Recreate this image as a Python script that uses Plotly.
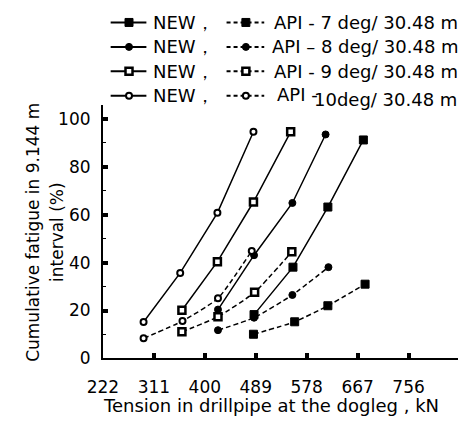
import plotly.graph_objects as go

W, H = 469, 429

# Tension in drillpipe at the dogleg (kN) vs cumulative fatigue (%)
new_7_t = [486, 554, 615, 677]
new_7_f = [18.3, 38.1, 63.2, 91.2]
api_7_t = [485, 557, 615, 680]
api_7_f = [10.1, 15.3, 22.0, 31.0]

new_8_t = [423, 486, 553, 611]
new_8_f = [20.4, 43.1, 64.9, 93.5]
api_8_t = [423, 486, 553, 616]
api_8_f = [11.8, 17.0, 26.5, 38.1]

new_9_t = [360, 422, 485, 550]
new_9_f = [20.1, 40.4, 65.3, 94.6]
api_9_t = [360, 423, 487, 552]
api_9_f = [11.1, 17.4, 27.6, 44.5]

new_10_t = [293, 357, 422, 485]
new_10_f = [15.2, 35.7, 60.8, 94.6]
api_10_t = [293, 361, 423, 482]
api_10_f = [8.4, 15.6, 25.1, 44.9]

x_ticks = [222, 311, 400, 489, 578, 667, 756]
y_ticks = [0, 20, 40, 60, 80, 100]

new_label = "NEW，"
api_labels = ["API - 7 deg/ 30.48 m", "API – 8 deg/ 30.48 m",
              "API - 9 deg/ 30.48 m", "API -", "10deg/ 30.48 m"]

FONT = "DejaVu Sans"


def px(x):
    return x / W


def py(y):
    return 1 - y / H


# marker styles: filled square, filled circle, open square, open circle
styles = {
    7: dict(symbol="square", size=8, color="black", line=dict(color="black", width=1)),
    8: dict(symbol="circle", size=7, color="black", line=dict(color="black", width=1)),
    9: dict(symbol="square", size=7, color="white", line=dict(color="black", width=2.5)),
    10: dict(symbol="circle", size=6, color="white", line=dict(color="black", width=2)),
}

series = [
    (7, new_7_t, new_7_f, api_7_t, api_7_f),
    (8, new_8_t, new_8_f, api_8_t, api_8_f),
    (9, new_9_t, new_9_f, api_9_t, api_9_f),
    (10, new_10_t, new_10_f, api_10_t, api_10_f),
]

fig = go.Figure()

for deg, nt, nf, at, af in series:
    fig.add_trace(go.Scatter(
        x=at, y=af, mode="lines+markers",
        line=dict(color="black", width=1.5, dash="5px,3px", shape="spline", smoothing=0.5),
        marker=styles[deg], showlegend=False, cliponaxis=False))
    fig.add_trace(go.Scatter(
        x=nt, y=nf, mode="lines+markers",
        line=dict(color="black", width=1.5),
        marker=styles[deg], showlegend=False, cliponaxis=False))

# legend samples drawn on a pixel-scaled overlay axis
legend_rows = [23, 48, 73, 98]
for deg, row in zip([7, 8, 9, 10], legend_rows):
    m = dict(styles[deg])
    fig.add_trace(go.Scatter(
        x=[98, 117, 135], y=[row, row, row], mode="lines",
        line=dict(color="black", width=2), xaxis="x2", yaxis="y2",
        showlegend=False, hoverinfo="skip"))
    fig.add_trace(go.Scatter(
        x=[117], y=[row], mode="markers", marker=m,
        xaxis="x2", yaxis="y2", showlegend=False, hoverinfo="skip"))
    fig.add_trace(go.Scatter(
        x=[218, 257], y=[row, row], mode="lines",
        line=dict(color="black", width=2, dash="4px,3px"), xaxis="x2", yaxis="y2",
        showlegend=False, hoverinfo="skip"))
    fig.add_trace(go.Scatter(
        x=[238], y=[row], mode="markers", marker=m,
        xaxis="x2", yaxis="y2", showlegend=False, hoverinfo="skip"))

annotations = []
tfont = dict(family=FONT, size=18, color="black")
for row in legend_rows:
    annotations.append(dict(text=new_label, x=px(140), y=py(row), xref="paper", yref="paper",
                            xanchor="left", yanchor="middle", showarrow=False, font=tfont))
for i in range(3):
    annotations.append(dict(text=api_labels[i], x=px(362), y=py(legend_rows[i]),
                            xref="paper", yref="paper", xanchor="center", yanchor="middle",
                            showarrow=False, font=tfont))
annotations.append(dict(text=api_labels[3], x=px(268), y=py(legend_rows[3] - 1),
                        xref="paper", yref="paper", xanchor="left", yanchor="middle",
                        showarrow=False, font=tfont))
annotations.append(dict(text=api_labels[4], x=px(459), y=py(legend_rows[3] + 4),
                        xref="paper", yref="paper", xanchor="right", yanchor="middle",
                        showarrow=False, font=tfont))

# axis titles
annotations.append(dict(text="Tension in drillpipe at the dogleg , kN", x=px(264), y=py(415),
                        xref="paper", yref="paper", xanchor="center", yanchor="middle",
                        showarrow=False, font=dict(family=FONT, size=18, color="black")))
for text, cx in [("Cumulative fatigue in 9.144 m", 18), ("interval (%)", 43)]:
    annotations.append(dict(text=text, x=px(cx), y=py(238),
                            xref="paper", yref="paper", xanchor="center", yanchor="middle",
                            textangle=-90, showarrow=False,
                            font=dict(family=FONT, size=17, color="black")))

tick_font = dict(family=FONT, size=17, color="black")

fig.update_layout(
    width=W, height=H,
    margin=dict(l=0, r=0, t=0, b=0),
    paper_bgcolor="white", plot_bgcolor="rgba(0,0,0,0)",
    showlegend=False,
    annotations=annotations,
    xaxis=dict(domain=[px(90), px(458)], range=[222, 843], anchor="y",
               tickvals=x_ticks, ticktext=[str(v) for v in x_ticks],
               ticks="inside", ticklen=5, tickwidth=4, tickcolor="black",
               showline=True, linecolor="black", linewidth=2,
               showgrid=False, zeroline=False, tickfont=tick_font,
               ticklabelstandoff=12),
    yaxis=dict(domain=[py(367), py(107)], range=[0, 106], anchor="x",
               tickvals=y_ticks, ticks="inside", ticklen=5, tickwidth=4, tickcolor="black",
               minor=dict(dtick=10, tick0=0, ticks="inside", ticklen=3, tickwidth=1,
                          tickcolor="black", showgrid=False),
               showline=True, linecolor="black", linewidth=2,
               showgrid=False, zeroline=False, tickfont=tick_font,
               ticklabelstandoff=7),
    xaxis2=dict(domain=[0, 1], range=[0, W], anchor="y2", visible=False, fixedrange=True),
    yaxis2=dict(domain=[0, 1], range=[H, 0], anchor="x2", visible=False, fixedrange=True),
)

fig.write_html("out.html")
